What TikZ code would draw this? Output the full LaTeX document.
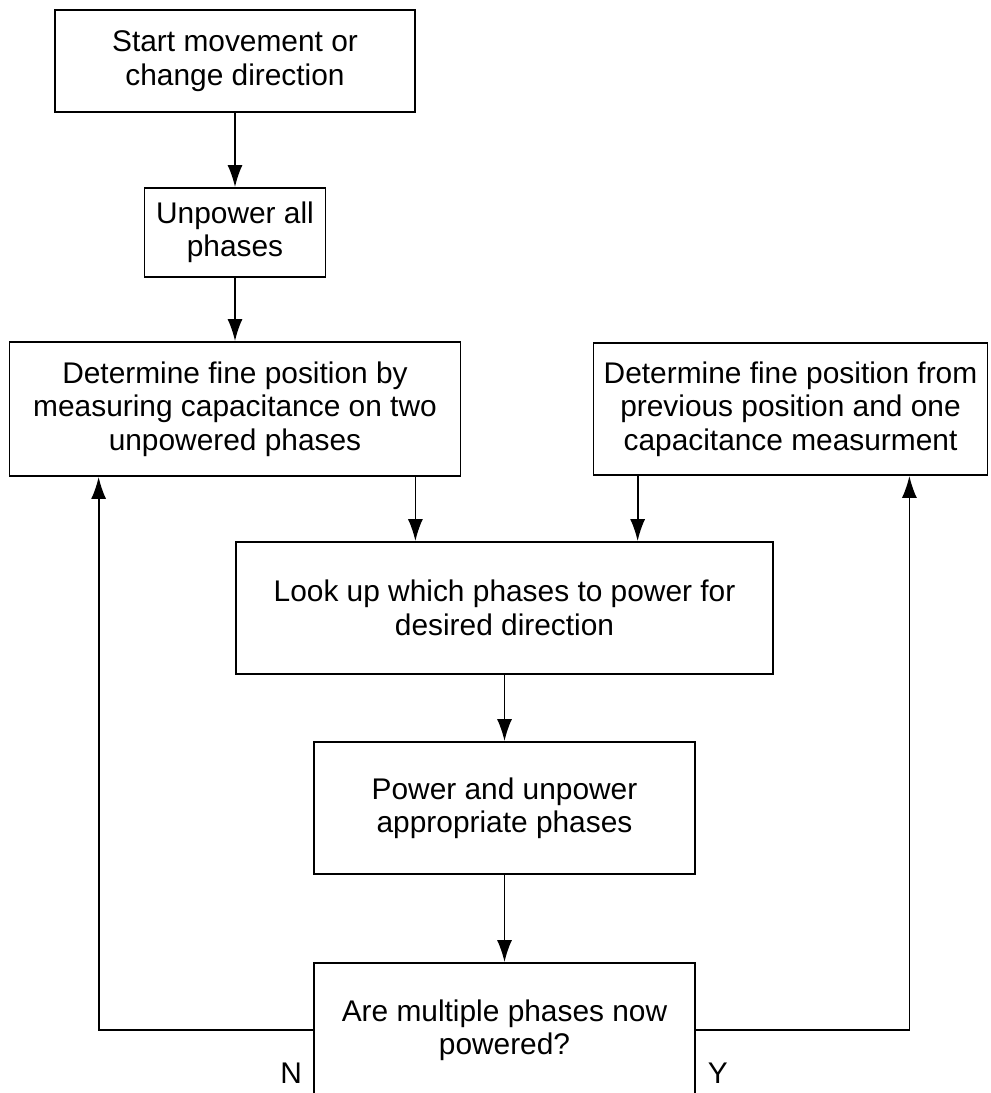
\documentclass[tikz,border=0pt]{standalone}
\usepackage{fontspec}
\setmainfont{Liberation Sans}
\usepackage{tikz}
\usetikzlibrary{arrows.meta,positioning}
\tikzstyle{block} = [draw, rectangle, line width=1pt, align=center, inner sep=0pt, font=\fontsize{17}{19}\selectfont]
\tikzstyle{tag} = [inner sep=0pt, font=\fontsize{17}{19}\selectfont]

\begin{document}
\begin{tikzpicture}[auto, node distance=2cm, >={Latex[length=0.44cm,width=0.3cm]}, line width=1pt]
	  \useasboundingbox (0,0) rectangle (19.8,-21.86);
	  \node [block, minimum width=7.2cm, minimum height=2.04cm] (start) at (4.7,-1.22) {Start movement or\\change direction};
	  \node [block, below of=start, node distance=3.43cm, minimum width=3.62cm, minimum height=1.78cm] (unpower) {Unpower all\\phases};
	  \node [block, below of=unpower, node distance=3.53cm, minimum width=9.02cm, minimum height=2.68cm] (fineA) {Determine fine position by\\measuring capacitance on two\\unpowered phases};
	  \node [block, right of=fineA, node distance=11.11cm, minimum width=7.88cm, minimum height=2.64cm] (fineB) {Determine fine position from\\previous position and one\\capacitance measurment};
	
	  \node [block, minimum width=10.74cm, minimum height=2.64cm] (lookup) at (10.09,-12.16) {Look up which phases to power for\\desired direction};
	  \node [block, below of=lookup, node distance=4cm, minimum width=7.62cm, minimum height=2.64cm] (power) {Power and unpower\\appropriate phases};
	  \node [block, below of=power, node distance=4.44cm, minimum width=7.62cm, minimum height=2.68cm] (check) {Are multiple phases now\\powered?};
	
	  \node [tag] (no) at ([xshift=-0.44cm, yshift=-0.86cm]check.west) {N};
	  \node [tag] (yes) at ([xshift=0.44cm, yshift=-0.86cm]check.east) {Y};
	
	  \coordinate (outA) at ([xshift=-0.92cm]fineA.south east);
	  \coordinate (outB) at ([xshift=0.9cm]fineB.south west);
	  \coordinate (backA) at ([xshift=1.8cm]fineA.south west);
	  \coordinate (backB) at ([xshift=-1.58cm]fineB.south east);
	
	  \draw [->] (start) -- (unpower);
	  \draw [->] (unpower) -- (fineA);
	  \draw [->] (outA) -- (outA |- lookup.north);
	  \draw [->] (outB) -- (outB |- lookup.north);
	  \draw [->] (lookup) -- (power);
	  \draw [->] (power) -- (check);
	  \draw [->] (check.west) -| (backA);
	  \draw [->] (check.east) -| (backB);
	\end{tikzpicture}
\end{document}
